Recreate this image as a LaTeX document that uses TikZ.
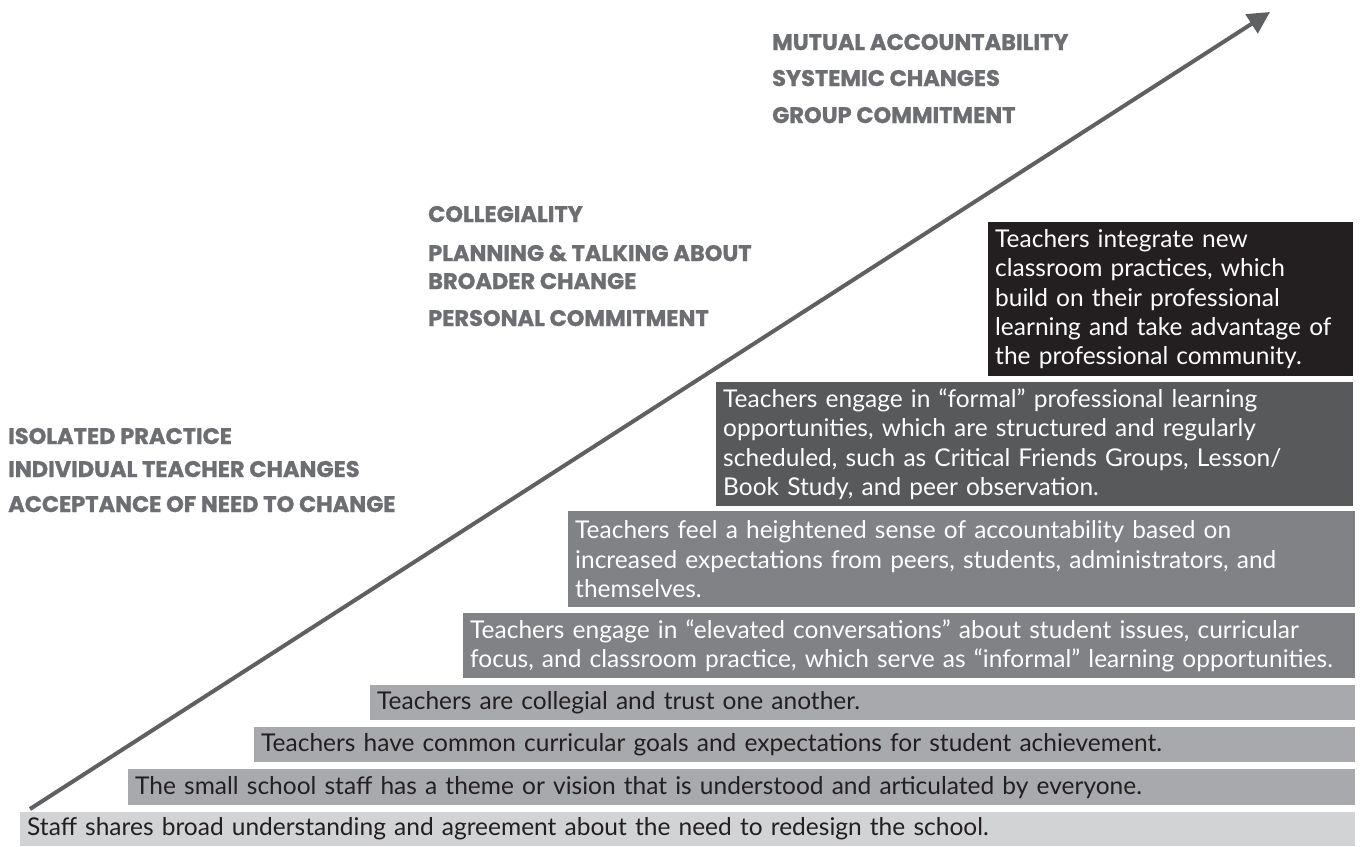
\documentclass[tikz,border=0pt]{standalone}
\usepackage{fontspec}
\setmainfont{Lato}
\newfontfamily\headfont{Poppins}[BoldFeatures={FakeBold=1.2}]
\usetikzlibrary{arrows.meta}
\definecolor{barA}{HTML}{D1D3D4}
\definecolor{barB}{HTML}{A7A9AC}
\definecolor{barC}{HTML}{808285}
\definecolor{barD}{HTML}{58595B}
\definecolor{barE}{HTML}{231F20}
\definecolor{headgray}{HTML}{6D6E71}
\definecolor{arrowgray}{HTML}{5F6062}
\tikzset{
  bar/.style={anchor=north west, inner xsep=7pt, inner ysep=0pt, align=left,
    font=\fontsize{24.5}{29.3}\selectfont, text=barE},
  darkbar/.style={bar, text=white},
  head/.style={anchor=base west, inner sep=0pt, text=headgray,
    font=\headfont\bfseries\fontsize{22.5}{26}\selectfont},
}
\begin{document}
\begin{tikzpicture}[x=1pt,y=-1pt]
\useasboundingbox (0,0) rectangle (1362,846);
\node[bar, fill=barA, minimum height=34pt, text width=1321pt] (b1) at (20,812)
  {Staff shares broad understanding and agreement about the need to redesign the school.};
\node[bar, fill=barB, minimum height=36pt, text width=1213pt] (b2) at (128,769)
  {The small school staff has a theme or vision that is understood and articulated by everyone.};
\node[bar, fill=barB, minimum height=35pt, text width=1087pt] (b3) at (254,727)
  {Teachers have common curricular goals and expectations for student achievement.};
\node[bar, fill=barB, minimum height=35pt, text width=971pt] (b4) at (370,685)
  {Teachers are collegial and trust one another.};
\node[darkbar, fill=barC, minimum height=65pt, text width=878pt] (b5) at (463,613)
  {Teachers engage in “elevated conversations” about student issues, curricular\\
   focus, and classroom practice, which serve as “informal” learning opportunities.};
\node[darkbar, fill=barC, minimum height=96pt, text width=773pt] (b6) at (568,511)
  {Teachers feel a heightened sense of accountability based on\\
   increased expectations from peers, students, administrators, and\\
   themselves.};
\node[darkbar, fill=barD, minimum height=124pt, text width=623pt] (b7) at (716,382)
  {Teachers engage in “formal” professional learning\\
   opportunities, which are structured and regularly\\
   scheduled, such as Critical Friends Groups, Lesson/\\
   Book Study, and peer observation.};
\node[darkbar, fill=barE, minimum height=154pt, text width=351pt] (b8) at (988,222)
  {Teachers integrate new\\
   classroom practices, which\\
   build on their professional\\
   learning and take advantage of\\
   the professional community.};
\coordinate (as) at (30,809);
\coordinate (ae) at (1270,12);
\draw[arrowgray, line width=4pt, -{Triangle[length=22pt,width=22pt]}] (as) -- (ae);
\node[head] (h1) at (8,444) {ISOLATED PRACTICE};
\node[head] (h2) at (8,477) {INDIVIDUAL TEACHER CHANGES};
\node[head] (h3) at (8,512) {ACCEPTANCE OF NEED TO CHANGE};
\node[head] (h4) at (428,222) {COLLEGIALITY};
\node[head] (h5) at (428,261) {PLANNING \& TALKING ABOUT};
\node[head] (h6) at (428,289) {BROADER CHANGE};
\node[head] (h7) at (428,326) {PERSONAL COMMITMENT};
\node[head] (h8) at (772,50) {MUTUAL ACCOUNTABILITY};
\node[head] (h9) at (772,86) {SYSTEMIC CHANGES};
\node[head] (h10) at (772,123) {GROUP COMMITMENT};
\end{tikzpicture}
\end{document}
